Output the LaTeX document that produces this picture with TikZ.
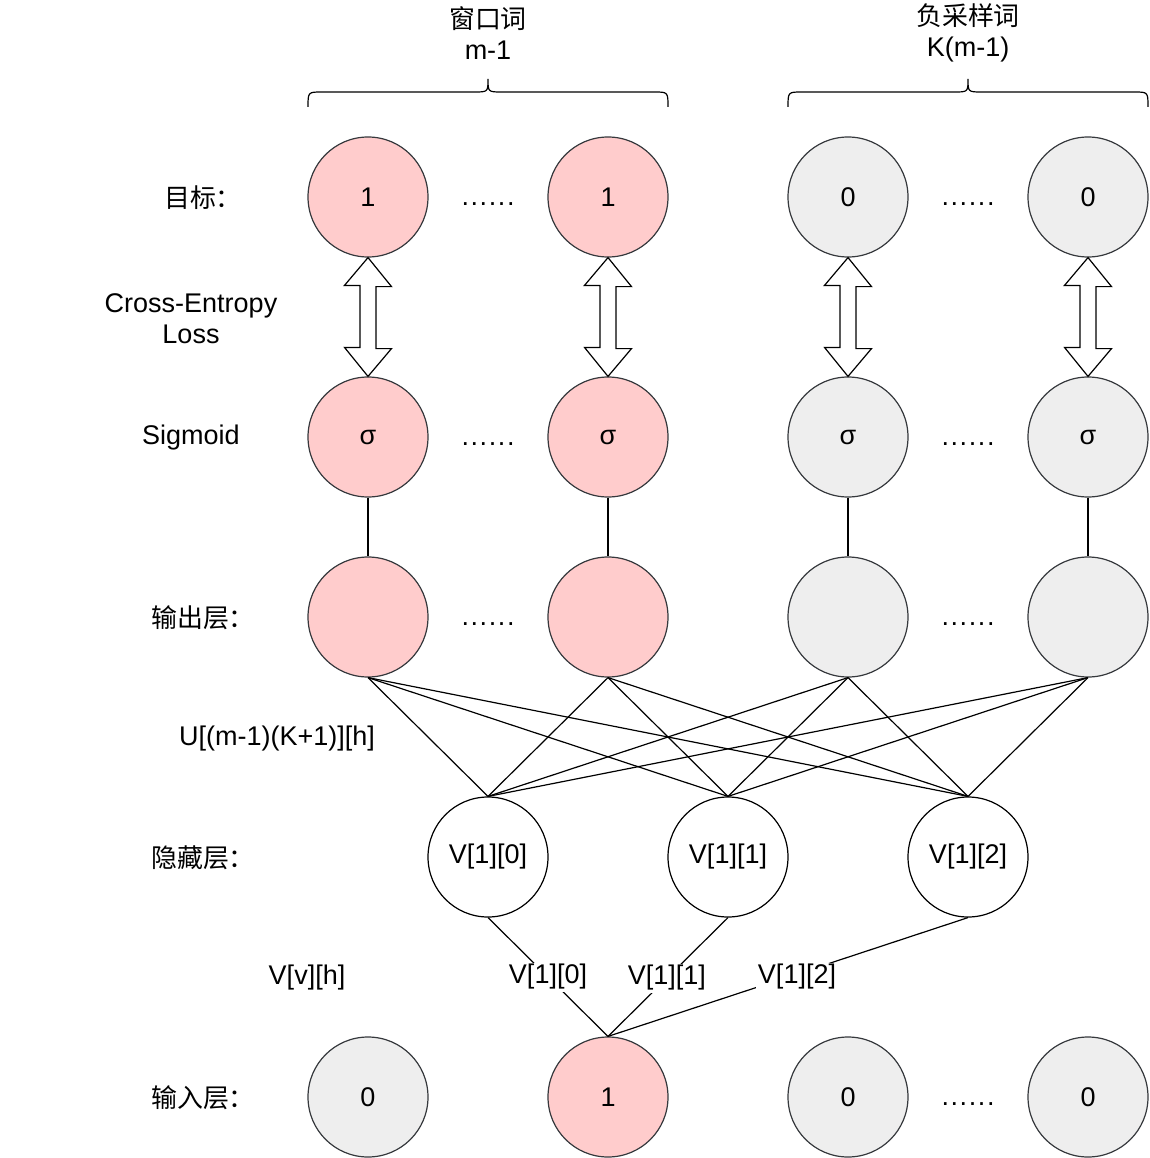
\documentclass[tikz,border=0pt]{standalone}
\usepackage{fontspec}
\setmainfont{Liberation Sans}
\newfontfamily\cjk{Noto Sans CJK SC}[Scale=0.96]
\usetikzlibrary{calc}
\definecolor{pinkf}{HTML}{FFCCCC}
\definecolor{grayf}{HTML}{EEEEEE}
\definecolor{strk}{HTML}{36393D}
\newcommand{\sixdots}{.\kern1.6pt.\kern1.6pt.\kern1.6pt.\kern1.6pt.\kern1.6pt.}
\begin{document}
\begin{tikzpicture}[x=1pt,y=-1pt,
  font=\fontsize{27}{31}\selectfont,
  circ/.style={circle, minimum size=120pt, inner sep=0pt, line width=1.2pt},
  pinknode/.style={circ, draw=strk, fill=pinkf},
  graynode/.style={circ, draw=strk, fill=grayf},
  whitenode/.style={circ, draw=black, fill=white},
  lbl/.style={align=center, inner sep=0pt},
  wire/.style={line width=1.2pt, draw=black},
  edgelab/.style={fill=white, inner sep=2pt, text height=19pt, text depth=6pt},
  blockarrow/.style={line width=1.2pt, draw=black, fill=white, line join=miter}]
\useasboundingbox (0,0) rectangle (1149,1158);

% top labels and braces
\node[lbl] (lw) at (488,33) {{\cjk 窗口词}\\m-1};
\node[lbl] (ln) at (968,33) {{\cjk 负采样词}\\K(m-1)};
\draw[line width=1.2pt] (308,107) .. controls (308,92) and (308,92) .. (322,92) -- (474,92)
  .. controls (488,92) and (488,92) .. (488,79) .. controls (488,92) and (488,92) .. (502,92)
  -- (654,92) .. controls (668,92) and (668,92) .. (668,107);
\draw[line width=1.2pt] (788,107) .. controls (788,92) and (788,92) .. (802,92) -- (954,92)
  .. controls (968,92) and (968,92) .. (968,79) .. controls (968,92) and (968,92) .. (982,92)
  -- (1134,92) .. controls (1148,92) and (1148,92) .. (1148,107);

% left labels
\node[lbl] (lt) at (203,198) {\cjk 目标：};
\node[lbl] (lc) at (191,319) {Cross-Entropy\\Loss};
\node[lbl] (ls) at (191,438) {Sigmoid};
\node[lbl] (lo) at (203,618) {\cjk 输出层：};
\node[lbl] (lu) at (277,739) {U[(m-1)(K+1)][h]};
\node[lbl] (lh) at (203,858) {\cjk 隐藏层：};
\node[lbl] (lv) at (307,978) {V[v][h]};
\node[lbl] (li) at (203,1098) {\cjk 输入层：};

% target row
\node[pinknode] (t1) at (368,197) {1};
\node[pinknode] (t2) at (608,197) {1};
\node[graynode] (t3) at (848,197) {0};
\node[graynode] (t4) at (1088,197) {0};
% sigmoid row
\node[pinknode] (s1) at (368,437) {σ};
\node[pinknode] (s2) at (608,437) {σ};
\node[graynode] (s3) at (848,437) {σ};
\node[graynode] (s4) at (1088,437) {σ};
% output row
\node[pinknode] (o1) at (368,617) {};
\node[pinknode] (o2) at (608,617) {};
\node[graynode] (o3) at (848,617) {};
\node[graynode] (o4) at (1088,617) {};
% hidden row
\node[whitenode] (h1) at (488,857) {V[1][0]};
\node[whitenode] (h2) at (728,857) {V[1][1]};
\node[whitenode] (h3) at (968,857) {V[1][2]};
% input row
\node[graynode] (i1) at (368,1097) {0};
\node[pinknode] (i2) at (608,1097) {1};
\node[graynode] (i3) at (848,1097) {0};
\node[graynode] (i4) at (1088,1097) {0};

% dots
\node[lbl] (d1) at (488,204) {\sixdots};
\node[lbl] (d2) at (968,204) {\sixdots};
\node[lbl] (d3) at (488,444) {\sixdots};
\node[lbl] (d4) at (968,444) {\sixdots};
\node[lbl] (d5) at (488,624) {\sixdots};
\node[lbl] (d6) at (968,624) {\sixdots};
\node[lbl] (d7) at (968,1104) {\sixdots};

% block double arrows
\foreach \k in {1,...,4}{
  \draw[blockarrow] (t\k.south) -- ++(23.5,29) -- ++(-15.5,0) -- ++(0,62) -- ++(15.5,0)
    -- (s\k.north) -- ++(-23.5,-29) -- ++(15.5,0) -- ++(0,-62) -- ++(-15.5,0) -- cycle;
}

% sigmoid to output
\foreach \k in {1,...,4}{
  \draw[wire] (s\k.south) -- (o\k.north);
}

% output to hidden
\foreach \a in {1,...,4}{
  \foreach \b in {1,2,3}{
    \draw[wire] (o\a.south) -- (h\b.north);
  }
}

% hidden to input
\draw[wire] (h1.south) -- node[edgelab, pos=0.5] {V[1][0]} (i2.north);
\draw[wire] (h2.south) -- node[edgelab, pos=0.51] {V[1][1]} (i2.north);
\draw[wire] (h3.south) -- node[edgelab, pos=0.475, yshift=-3pt] {V[1][2]} (i2.north);
\end{tikzpicture}
\end{document}
